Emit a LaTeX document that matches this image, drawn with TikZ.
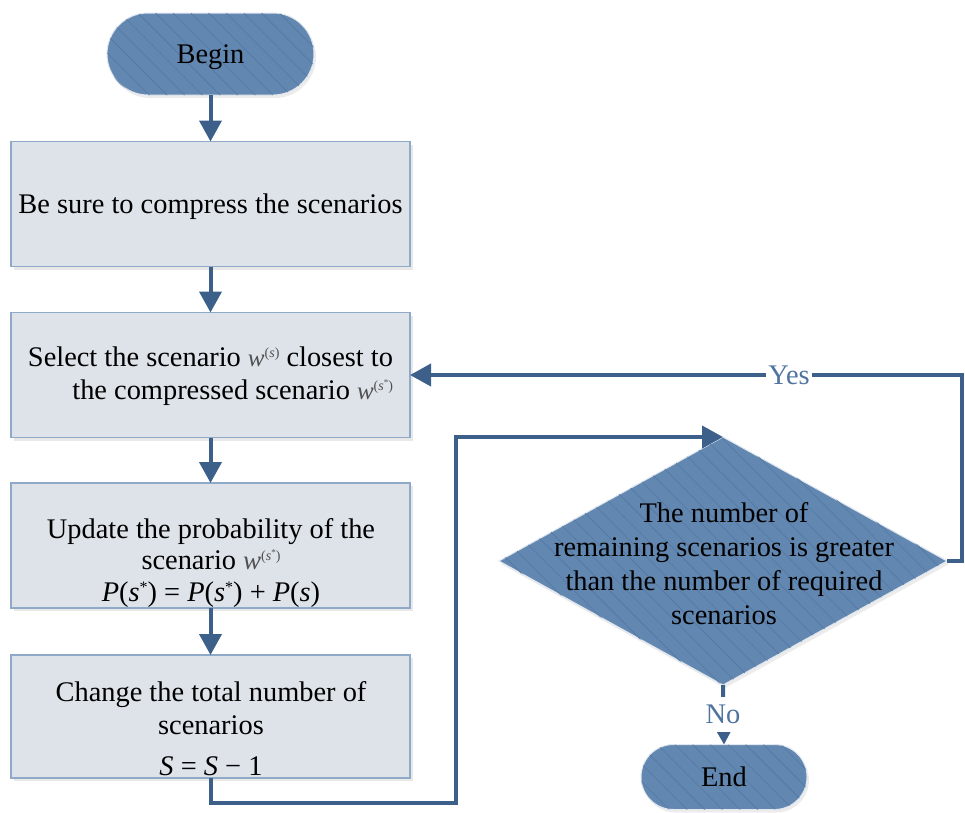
\documentclass[tikz,border=0pt]{standalone}
\usepackage{fontspec}
\setmainfont{Liberation Serif}
\usetikzlibrary{arrows.meta,shapes.geometric,patterns.meta,shadows}
\definecolor{termc}{HTML}{6287B1}
\definecolor{hatchc}{HTML}{5478A3}
\definecolor{connc}{HTML}{3C608A}
\definecolor{boxfill}{HTML}{DEE3EA}
\definecolor{boxline}{HTML}{8FA9C9}
\definecolor{lblc}{HTML}{4F74A0}
\definecolor{formc}{HTML}{505050}
\newcommand{\wsimple}{{\color{formc}\fontsize{25}{25}\selectfont\textit{w}\raisebox{9pt}{\fontsize{14}{14}\selectfont(\textit{s})}}}
\newcommand{\wstar}[1]{{\color{formc}\fontsize{#1}{#1}\selectfont\textit{w}\raisebox{9pt}{\fontsize{14}{14}\selectfont(\textit{s}\raisebox{5pt}{\fontsize{9}{9}\selectfont*})}}}
\newcommand{\sst}{\textit{s}\raisebox{9pt}{\fontsize{16}{16}\selectfont*}}
\begin{document}
\begin{tikzpicture}[x=1pt,y=-1pt,
  every node/.style={font=\fontsize{28.4}{33}\selectfont},
  procbox/.style={draw=boxline, line width=1.3pt, fill=boxfill, minimum width=399pt,
    minimum height=125pt, inner sep=0pt, outer sep=0pt,
    drop shadow={opacity=0.18, shadow xshift=2.5pt, shadow yshift=-3pt}},
  hatched/.style={fill=termc, draw=white!80!termc, line width=1pt, inner sep=0pt, outer sep=0pt,
    drop shadow={opacity=0.15, shadow xshift=2pt, shadow yshift=-3pt},
    postaction={pattern color=hatchc, pattern={Lines[angle=-45,distance=12.5pt,line width=0.6pt]}}},
  termnode/.style={hatched, rounded corners=#1, text depth=0pt},
  conn/.style={draw=connc, line width=4pt, -{Triangle[length=21pt,width=22pt]}},
  lab/.style={text=lblc, fill=white, inner xsep=2pt, inner ysep=0pt, minimum height=35pt}]
\useasboundingbox (0,0) rectangle (965,812);

% nodes
\node[termnode=41pt, minimum width=207pt, minimum height=82pt] (begin) at (210.5,54) {Begin};
\node[procbox, text depth=0pt] (b1) at (210.5,204) {Be sure to compress the scenarios};
\node[procbox] (b2) at (210.5,375) {};
\node[align=right] (t2) at (210.5,376.5) {Select the scenario \wsimple\ closest to\\the compressed scenario \wstar{25}};
\node[procbox] (b3) at (210.5,545.5) {};
\node[align=center, font=\fontsize{28.4}{31.5}\selectfont] (t3) at (211,563) {Update the probability of the\\scenario \wstar{27}\\\textit{P}(\sst) = \textit{P}(\sst) + \textit{P}(\textit{s})};
\node[procbox, minimum height=123pt] (b4) at (210.5,716.5) {};
\node[align=center] (t4) at (211,729) {Change the total number of\\scenarios\\[8pt]\textit{S} = \textit{S} − 1};

\node[hatched, diamond, minimum width=448pt, minimum height=248pt] (dec) at (723,561) {};
\node[align=center, font=\fontsize{28.4}{34}\selectfont] (dtext) at (724,563.5) {The number of\\remaining scenarios is greater\\than the number of required\\scenarios};
\node[termnode=32.5pt, minimum width=166pt, minimum height=65pt] (end) at (724,777) {End};

\coordinate (c1) at (456,803);
\coordinate (c2) at (962,375);

% connectors
\draw[conn] (begin.south) -- (begin.south |- b1.north);
\draw[conn] (b1.south) -- (b2.north);
\draw[conn] (b2.south) -- (b3.north);
\draw[conn] (b3.south) -- (b4.north);
\draw[conn] (b4.south) |- (c1) |- (dec.north);
\draw[conn] (dec.east) -| (c2) -- (b2.east);
\draw[conn] (dec.south) -- (end.north);

\node[lab] (yes) at (789,375) {Yes};
\node[lab] (no) at (723,714.5) {No};
\end{tikzpicture}
\end{document}
